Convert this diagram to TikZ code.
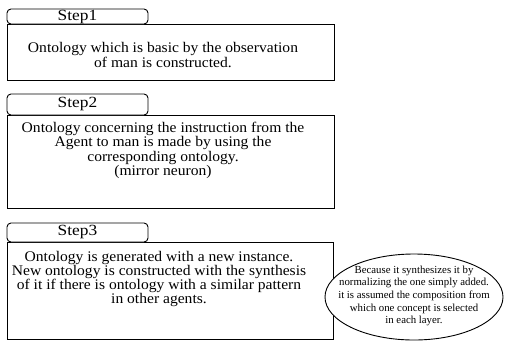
\documentclass[tikz,border=0pt]{standalone}
\usepackage{fontspec}
\setmainfont{Liberation Serif}
\newfontfamily\widefont[FakeStretch=1.06]{Liberation Serif}
\newfontfamily\labelfont[FakeStretch=1.12]{Liberation Serif}
\usetikzlibrary{shapes.geometric}
\begin{document}
\begin{tikzpicture}[x=1pt,y=-1pt,
  boxline/.style={draw=black,line width=0.9pt},
  tabbox/.style={boxline,rounded corners=4pt,fill=white},
  steplabel/.style={font=\labelfont\fontsize{15.5}{15.5}\selectfont,inner sep=0pt},
  bodytext/.style={font=\widefont\fontsize{14.7}{14.3}\selectfont,align=center,inner sep=0pt},
  notetext/.style={font=\fontsize{10.8}{12.6}\selectfont,align=center,inner sep=0pt}]
\useasboundingbox (0,0) rectangle (506,341);
% Step 1
\draw[boxline] (7,24) rectangle (334,80);
\draw[tabbox] (7,24) rectangle (148,9);
\node[steplabel] (s1) at (77.5,17) {Step1};
\node[bodytext] (t1) at (163,55) {Ontology which is basic by the observation\\of man is constructed.};
% Step 2
\draw[boxline] (7,115) rectangle (334,208);
\draw[tabbox] (7,115) rectangle (148,94);
\node[steplabel] (s2) at (77.5,104.5) {Step2};
\node[bodytext] (t2) at (163,150.5) {Ontology concerning the instruction from the\\Agent to man is made by using the\\corresponding ontology.\\(mirror neuron)};
% Step 3
\draw[boxline] (7,242) rectangle (333,339);
\draw[tabbox] (7,242) rectangle (148,223);
\node[steplabel] (s3) at (77.5,232.5) {Step3};
\node[bodytext] (t3) at (159,279) {Ontology is generated with a new instance.\\New ontology is constructed with the synthesis\\of it if there is ontology with a similar pattern\\in other agents.};
% Note ellipse
\node[ellipse,boxline,fill=white,minimum width=178pt,minimum height=86pt,inner sep=0pt] (e) at (414,297) {};
\node[notetext] (en) at (414,296) {Because it synthesizes it by\\normalizing the one simply added.\\it is assumed the composition from\\which one concept is selected\\in each layer.};
\end{tikzpicture}
\end{document}
